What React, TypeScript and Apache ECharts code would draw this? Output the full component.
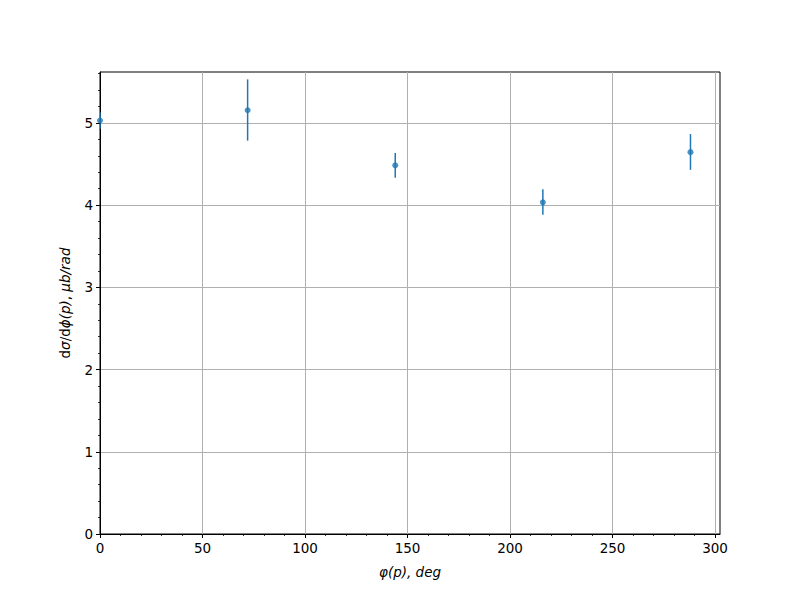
import React, { useEffect, useRef } from "react";
import * as echarts from "echarts";

const phiDeg = [0, 72, 144, 216, 288];
const dSigma = [5.03, 5.155, 4.485, 4.035, 4.645];
const errLow = [4.93, 4.785, 4.335, 3.885, 4.43];
const errHigh = [5.13, 5.53, 4.635, 4.195, 4.865];
const xTicks = [0, 50, 100, 150, 200, 250, 300];
const yTicks = [0, 1, 2, 3, 4, 5];

const FONT = "DejaVu Sans";
const BLUE = "#1f77b4";

export default function App() {
  const ref = useRef<HTMLDivElement>(null);
  useEffect(() => {
    if (!ref.current) return;
    const chart = echarts.init(ref.current, undefined, { renderer: "svg" });
    const axisCommon = {
      axisLine: { show: true, onZero: false, lineStyle: { color: "#000", width: 1 } },
      axisTick: { show: true, inside: false, length: 4, lineStyle: { color: "#000", width: 1 } },
      minorTick: { show: true, splitNumber: 5, length: 2, lineStyle: { color: "#000", width: 0.8 } },
      splitLine: { show: true, lineStyle: { color: "#b0b0b0", width: 1 } },
      axisLabel: { color: "#000", fontFamily: FONT, fontSize: 13.5, margin: 7 },
    };
    chart.setOption({
      animation: false,
      backgroundColor: "#fff",
      grid: {
        left: 100,
        right: 80,
        top: 72,
        bottom: 66,
        show: true,
        borderColor: "#000",
        borderWidth: 1,
        backgroundColor: "transparent",
      },
      xAxis: {
        type: "value",
        min: 0,
        max: 302.4,
        interval: 50,
        ...axisCommon,
        axisLabel: {
          ...axisCommon.axisLabel,
          customValues: xTicks,
          formatter: (v: number) => (xTicks.includes(v) ? String(v) : ""),
        },
        axisTick: { ...axisCommon.axisTick, customValues: xTicks },
        name: "φ(p), deg",
        nameLocation: "middle",
        nameGap: 31,
        nameTextStyle: { color: "#000", fontFamily: FONT, fontSize: 13.5, fontStyle: "italic" },
      },
      yAxis: {
        type: "value",
        min: 0,
        max: 5.62,
        interval: 1,
        ...axisCommon,
        axisLabel: {
          ...axisCommon.axisLabel,
          customValues: yTicks,
          formatter: (v: number) => String(v),
        },
        axisTick: { ...axisCommon.axisTick, customValues: yTicks },
        name: "{n|d}{i|σ}{n|/d}{i|ϕ(p)}{n|, }{i|μb/rad}",
        nameLocation: "middle",
        nameGap: 28,
        nameRotate: 90,
        nameTextStyle: {
          color: "#000",
          fontFamily: FONT,
          fontSize: 13.5,
          rich: {
            n: { fontFamily: FONT, fontSize: 13.5, color: "#000" },
            i: { fontFamily: FONT, fontSize: 13.5, color: "#000", fontStyle: "italic" },
          },
        },
      },
      series: [
        {
          type: "custom",
          clip: true,
          data: phiDeg.map((x, i) => [x, errLow[i], errHigh[i]]),
          renderItem: (params: any, api: any) => {
            const p1 = api.coord([api.value(0), api.value(1)]);
            const p2 = api.coord([api.value(0), api.value(2)]);
            return {
              type: "line",
              shape: { x1: p1[0], y1: p1[1], x2: p2[0], y2: p2[1] },
              style: { stroke: BLUE, lineWidth: 1.5 },
            };
          },
          z: 2,
        },
        {
          type: "scatter",
          clip: true,
          data: phiDeg.map((x, i) => [x, dSigma[i]]),
          symbol: "circle",
          symbolSize: 6,
          itemStyle: { color: BLUE },
          z: 3,
        },
      ],
    });
    return () => chart.dispose();
  }, []);
  return <div ref={ref} style={{ width: 800, height: 600, position: "absolute", left: 0, top: 0 }} />;
}
